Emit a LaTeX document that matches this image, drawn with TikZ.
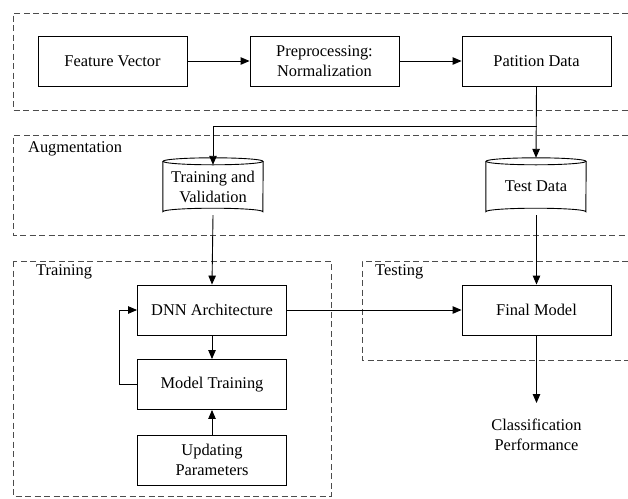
\documentclass[tikz,border=0pt]{standalone}
\usepackage{fontspec}
\setmainfont{Liberation Serif}
\usetikzlibrary{arrows.meta}
\begin{document}
\begin{tikzpicture}[x=1pt,y=-1pt,
  every node/.style={font=\fontsize{16.4}{20}\selectfont, align=center, inner sep=0pt},
  procbox/.style={draw, line width=0.9pt, minimum width=149pt, minimum height=50pt},
  dbox/.style={minimum width=100pt, minimum height=57pt},
  grp/.style={draw=black!70, line width=0.9pt, dash pattern=on 6pt off 3.5pt},
  conn/.style={line width=0.9pt, -{Triangle[length=9pt,width=7.5pt]}},
  plain/.style={line width=0.9pt},
  grplabel/.style={anchor=west}]
\useasboundingbox (0,0) rectangle (628,498);
% group frames
\draw[grp] (628,13) -- (13,13) -- (13,110) -- (628,110);
\draw[grp] (628,135) -- (13,135) -- (13,235) -- (628,235);
\draw[grp] (13,261) rectangle (331,496);
\draw[grp] (628,261) -- (362,261) -- (362,360) -- (628,360);
\node[grplabel] (laug) at (28,149) {Augmentation};
\node[grplabel] (ltrain) at (36,272) {Training};
\node[grplabel] (ltest) at (375,272) {Testing};
% boxes
\node[procbox] (fv) at (112.5,61) {Feature Vector};
\node[procbox] (pre) at (324.5,61) {Preprocessing:\\Normalization};
\node[procbox] (pat) at (536.5,61) {Patition Data};
\node[procbox] (dnn) at (212,310) {DNN Architecture};
\node[procbox] (mt) at (212,384.5) {Model Training};
\node[procbox] (up) at (212,460) {Updating\\Parameters};
\node[procbox] (fm) at (536.5,310) {Final Model};
\node (cp) at (536.5,435) {Classification\\Performance};
% cylinders
\node[dbox] (tv) at (213,186.5) {Training and\\Validation};
\node[dbox] (td) at (536,186.5) {Test Data};
\foreach \c in {tv,td}{
  \draw[plain] ([yshift=-3.5pt]\c.north) ellipse [x radius=50pt, y radius=3.5pt];
  \draw[plain] ([yshift=-3.5pt]\c.north west) -- ([yshift=3.5pt]\c.south west)
     arc[start angle=180, end angle=360, x radius=50pt, y radius=-3.5pt]
     -- ([yshift=-3.5pt]\c.north east);
}
\coordinate (tvin) at ([yshift=-7pt]tv.north);
\coordinate (br) at (pat.south |- 0,126);
\coordinate (brl) at (tv.north |- 0,126);
\coordinate (loopb) at (119,0 |- mt.west);
\coordinate (loopt) at (119,0 |- dnn.west);
\coordinate (cpin) at (536.5,403);
% connectors
\draw[conn] (fv) -- (pre);
\draw[conn] (pre) -- (pat);
\draw[conn] (pat.south) -- (td.north);
\draw[conn] (br) -- (brl) -- (tvin);
\draw[conn] (tv.south) -- (dnn.north);
\draw[conn] ([xshift=0.5pt]td.south) -- (fm.north);
\draw[conn] (dnn.south) -- (mt.north);
\draw[conn] (up.north) -- (mt.south);
\draw[conn] (mt.west) -- (loopb) -- (loopt) -- (dnn.west);
\draw[conn] (dnn.east) -- (fm.west);
\draw[conn] (fm.south) -- (cpin);
\end{tikzpicture}
\end{document}
